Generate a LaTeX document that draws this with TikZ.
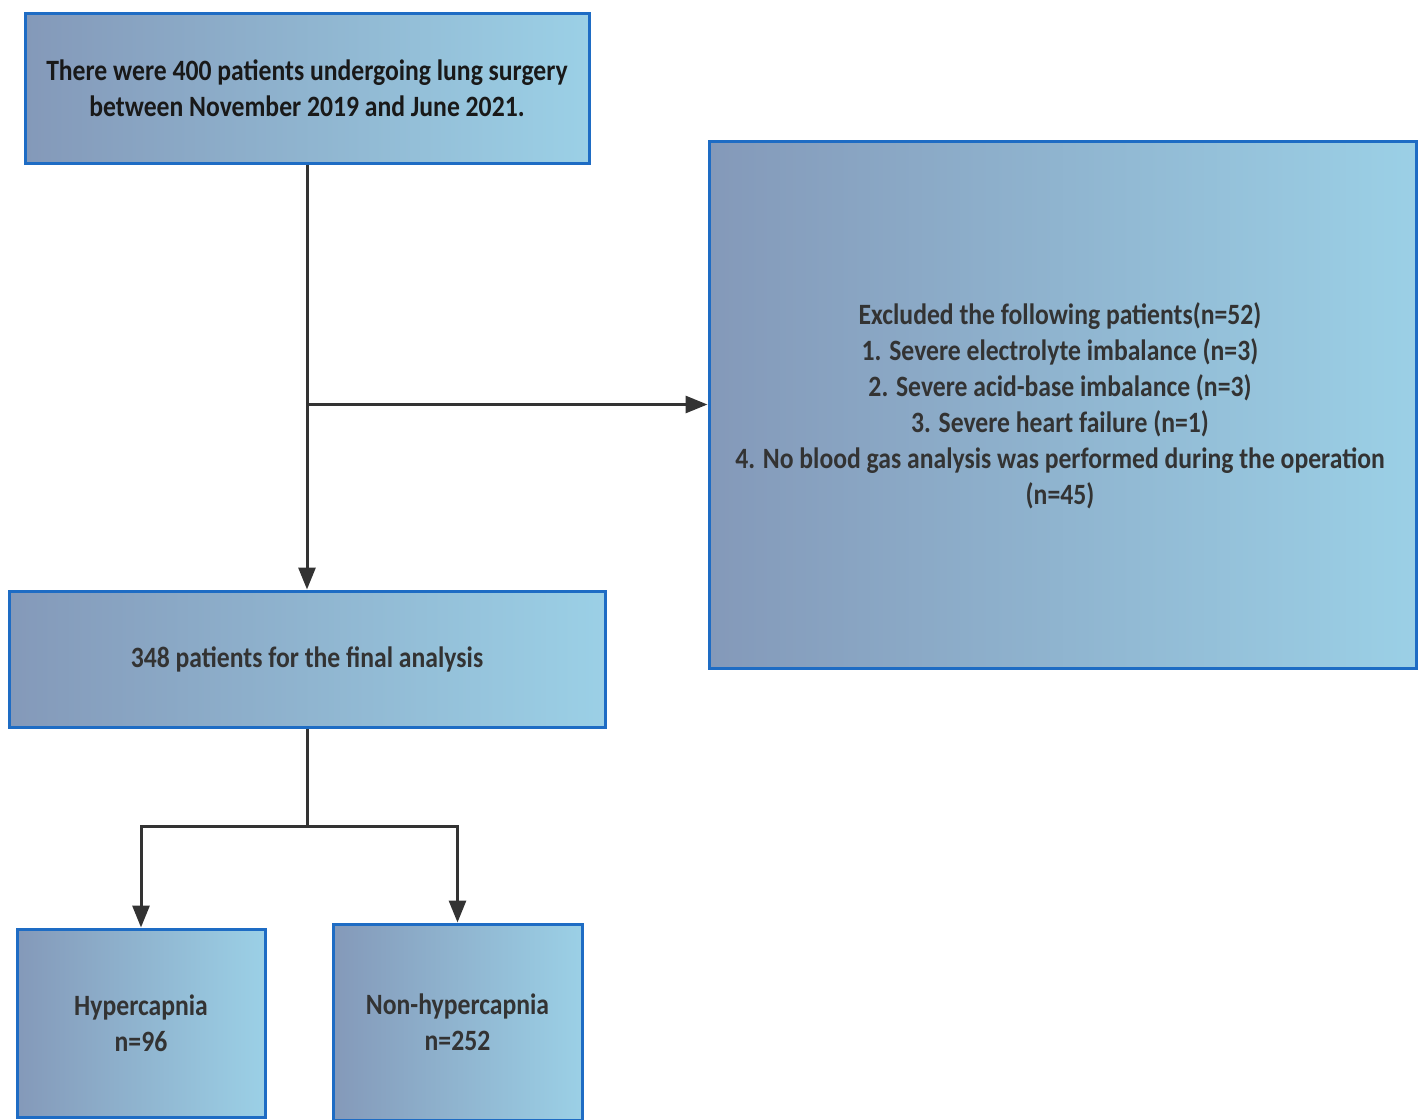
\documentclass[tikz,border=0pt]{standalone}
\usepackage{fontspec}
\setmainfont{Carlito}[FakeStretch=0.87]
\usetikzlibrary{arrows.meta}
\definecolor{gradL}{HTML}{8499B9}
\definecolor{gradR}{HTML}{9BD0E6}
\definecolor{edgeblue}{HTML}{1E6CC4}
\definecolor{linegray}{HTML}{333333}
\definecolor{txtgray}{HTML}{333333}
\begin{document}
\begin{tikzpicture}[x=1pt,y=-1pt,
  box/.style={draw=edgeblue, line width=3pt, left color=gradL, right color=gradR,
    align=center, inner sep=0pt, font=\fontsize{29.5}{36}\selectfont\bfseries, text=txtgray},
  conn/.style={draw=linegray, line width=3pt},
  arr/.style={conn, -{Triangle[length=22pt,width=17pt]}}]
\useasboundingbox (0,0) rectangle (1424,1119);
\node[box, minimum width=564pt, minimum height=150pt, text=black!90] (top) at (307,88)
  {There were 400 patients undergoing lung surgery\\between November 2019 and June 2021.};
\node[box, minimum width=707pt, minimum height=527pt] (excl) at (1062.5,404.5) {};
\node[align=center, font=\fontsize{29.5}{36}\selectfont\bfseries, text=txtgray, inner sep=0pt] (excltext) at (1060,406)
  {Excluded the following patients(n=52)\\
   1. Severe electrolyte imbalance (n=3)\\
   2. Severe acid-base imbalance (n=3)\\
   3. Severe heart failure (n=1)\\
   4. No blood gas analysis was performed during the operation\\
   (n=45)};
\node[box, minimum width=596pt, minimum height=136pt] (final) at (307,659)
  {348 patients for the final analysis};
\node[box, minimum width=248pt, minimum height=188pt] (hyper) at (141,1023)
  {Hypercapnia\\n=96};
\node[box, minimum width=249pt, minimum height=196pt] (non) at (457.5,1022)
  {Non-hypercapnia\\n=252};
\coordinate (split) at (307,826);
\draw[arr] (top.south) -- (final.north);
\draw[arr] (top.south |- excl.west) -- (excl.west);
\draw[conn] (final.south) -- (split);
\draw[arr] (split) -| (hyper.north);
\draw[arr] (split) -| (non.north);
\end{tikzpicture}
\end{document}
